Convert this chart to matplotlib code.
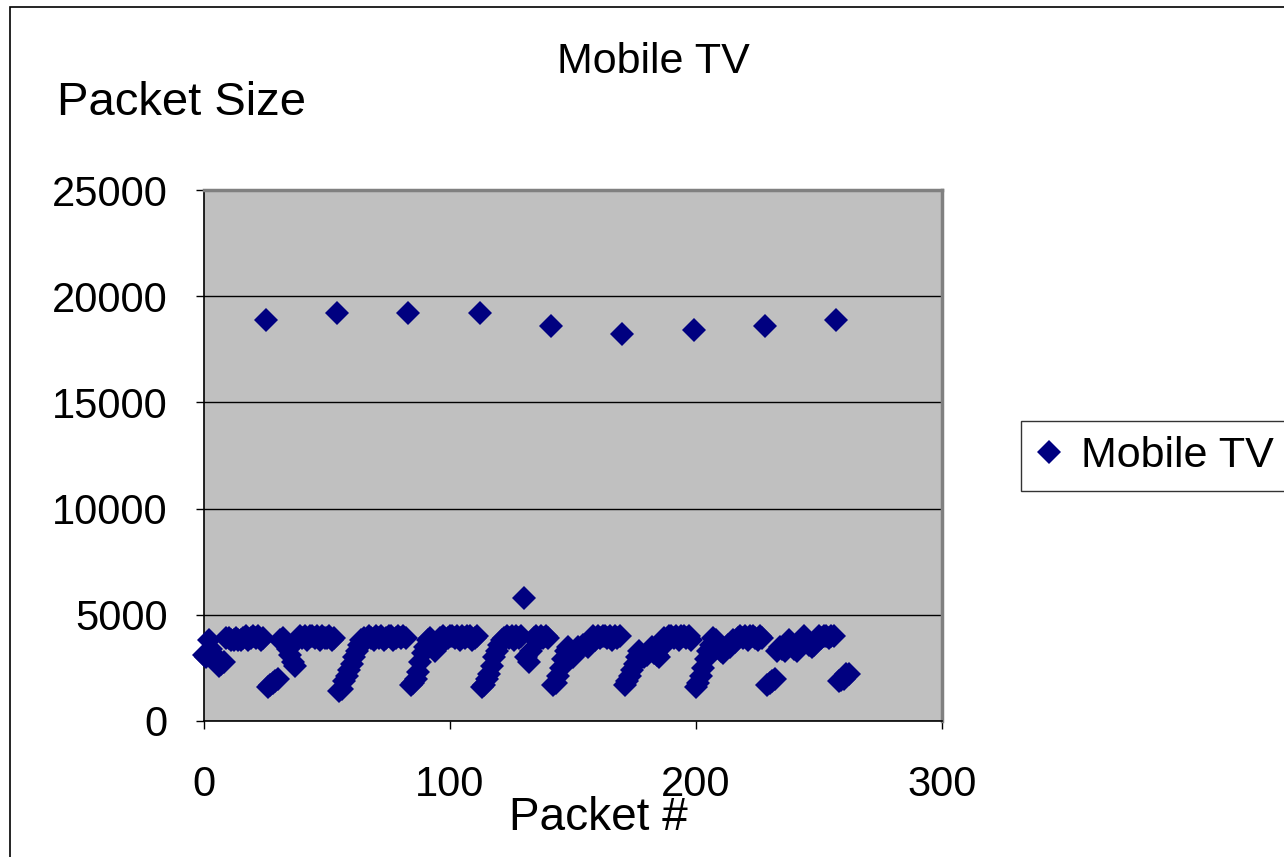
import numpy as np
import matplotlib.pyplot as plt
from matplotlib.patches import Rectangle

plt.rcParams['font.family'] = ['Liberation Sans', 'DejaVu Sans']

# packet sizes in bytes, one per packet starting at packet 0
gop_0 = [3100, 3000, 3800, 3400, 3100, 2900, 2600, 2700, 2800, 3900,
         3900, 3800, 3800, 3900, 3800, 3800, 3900, 4000, 3800, 3900,
         4000, 3900, 4000, 3800, 3900]
gop_1 = [18900, 1600, 1700, 1800, 1900, 2000, 3800, 3900, 3700, 3400,
         3100, 2800, 2600, 3800, 4000, 3900, 4000, 3800, 4000, 4000,
         3900, 4000, 3800, 4000, 3900, 3900, 4000, 3800, 3900]
gop_2 = [19200, 1400, 1500, 1900, 2100, 2400, 2700, 3000, 3300, 3600,
         3800, 3900, 3800, 4000, 3900, 3800, 4000, 3900, 4000, 3800,
         3900, 4000, 4000, 3800, 3900, 4000, 3900, 4000, 3900]
gop_3 = [19200, 1700, 1800, 2000, 2300, 2800, 3200, 3500, 3800, 3900,
         3500, 3300, 3600, 3900, 4000, 3800, 3900, 4000, 4000, 3900,
         4000, 3800, 4000, 3900, 4000, 4000, 3800, 3900, 4000]
gop_4 = [19200, 1600, 1700, 2000, 2200, 2600, 3000, 3300, 3600, 3800,
         3900, 4000, 3900, 4000, 3800, 4000, 3900, 4000, 5800, 3000,
         2800, 3300, 3900, 4000, 3800, 4000, 3900, 4000, 3900]
gop_5 = [18600, 1700, 1800, 2100, 2500, 2900, 3300, 3500, 3200, 3000,
         3300, 3500, 3400, 3600, 3600, 3500, 3800, 4000, 3800, 4000,
         3900, 4000, 4000, 3900, 4000, 3800, 4000, 3900, 4000]
gop_6 = [18200, 1700, 1900, 2100, 2400, 2700, 3000, 3300, 3100, 3000,
         3100, 3300, 3500, 3200, 3100, 3000, 3500, 3900, 3800, 4000,
         4000, 3900, 4000, 3800, 4000, 4000, 3900, 4000, 3800]
gop_7 = [18400, 1600, 1800, 2100, 2500, 2900, 3300, 3600, 3900, 3800,
         3500, 3300, 3200, 3400, 3600, 3500, 3800, 3700, 3900, 4000,
         3900, 4000, 3800, 4000, 4000, 3900, 3800, 4000, 3900]
gop_8 = [18600, 1700, 1800, 1900, 2000, 3300, 3500, 3400, 3300, 3500,
         3800, 3600, 3400, 3300, 3500, 3700, 4000, 3800, 3600, 3500,
         3600, 3800, 4000, 3900, 4000, 4000, 3900, 4000, 4000]
gop_9 = [18900, 1900, 1950, 2000, 2200, 2200]

packet_size = np.array(gop_0 + gop_1 + gop_2 + gop_3 + gop_4 + gop_5
                       + gop_6 + gop_7 + gop_8 + gop_9)
packet_num = np.arange(len(packet_size))

navy = '#000080'

fig = plt.figure(figsize=(12.84, 8.57), dpi=100)
ax = fig.add_axes([204 / 1284, 1 - 721 / 857, 738 / 1284, 531 / 857])
ax.set_facecolor('#c0c0c0')

ax.plot(packet_num, packet_size, linestyle='none', marker='D',
        markersize=12.5, color=navy, markeredgewidth=0,
        clip_on=False, zorder=3, label='Mobile TV')

ax.set_xlim(0, 300)
ax.set_ylim(0, 25000)
ax.set_xticks([0, 100, 200, 300])
ax.set_yticks(range(0, 25001, 5000))
ax.yaxis.grid(True, color='black', linewidth=1)
ax.set_axisbelow(True)

for side in ['top', 'right']:
    ax.spines[side].set_color('#808080')
    ax.spines[side].set_linewidth(2.5)
for side in ['left', 'bottom']:
    ax.spines[side].set_color('black')
    ax.spines[side].set_linewidth(1.2)

ax.tick_params(axis='y', direction='out', length=6, width=1,
               labelsize=30, pad=20)
ax.tick_params(axis='x', direction='out', length=6, width=1,
               labelsize=30, pad=26)

fig.text(653 / 1284, 1 - 62 / 857, 'Mobile TV', fontsize=31,
         ha='center', va='center')
fig.text(57 / 1284, 1 - 103 / 857, 'Packet Size', fontsize=34,
         ha='left', va='center')
fig.text(598 / 1284, 1 - 818 / 857, 'Packet #', fontsize=33,
         ha='center', va='center')

leg = ax.legend(loc='center left', bbox_to_anchor=(1021 / 1284, 1 - 456 / 857),
                bbox_transform=fig.transFigure, fontsize=31, frameon=True,
                fancybox=False, edgecolor='black', handlelength=0.6,
                handletextpad=0.45, borderpad=0.35, borderaxespad=0)
leg.get_frame().set_linewidth(1)
leg.legend_handles[0].set_markersize(12.5)

# outer chart border, running off the bottom and right edges
fig.patches.append(Rectangle((10 / 1284, -0.05), 1.2, 1.05 - 7 / 857,
                             transform=fig.transFigure, fill=False,
                             edgecolor='black', linewidth=1.2))

fig.savefig('out.png', dpi=100)
